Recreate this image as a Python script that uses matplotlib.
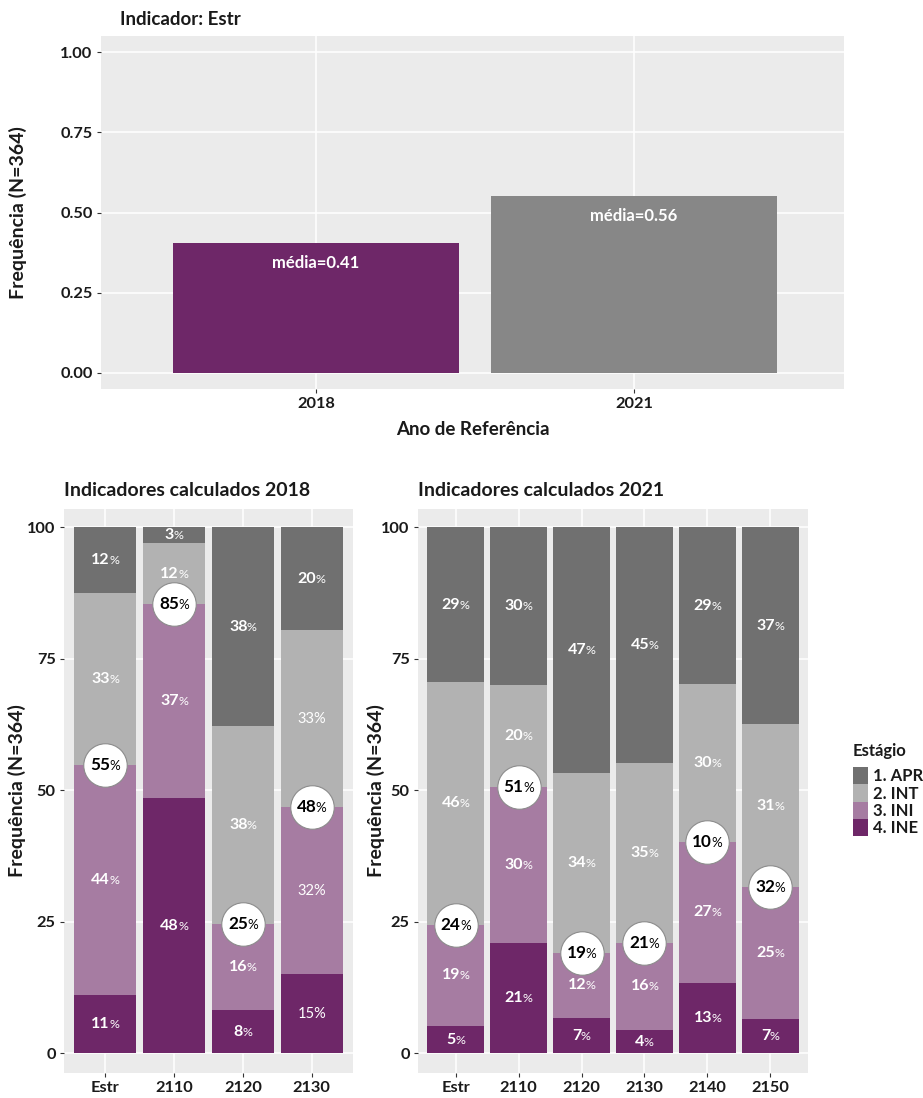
import matplotlib
matplotlib.use("Agg")
import matplotlib.pyplot as plt
from matplotlib.patches import Patch
from matplotlib.offsetbox import TextArea, HPacker, AnnotationBbox

FONT = ["Lato", "DejaVu Sans"]
plt.rcParams["font.family"] = FONT

# ---------------- data ----------------
years = ["2018", "2021"]
mean_values = [0.405, 0.552]
mean_labels = ["média=0.41", "média=0.56"]

legend_title = "Estágio"
stages = ["1. APR", "2. INT", "3. INI", "4. INE"]

cats_2018 = ["Estr", "2110", "2120", "2130"]
ine_2018 = [11.0, 48.5, 8.2, 15.0]
ini_2018 = [43.9, 36.9, 16.4, 31.8]
int_2018 = [32.7, 11.6, 37.6, 33.6]
apr_2018 = [12.4, 3.0, 37.8, 19.6]
lab_ine_2018 = [11, 48, 8, 15]
lab_ini_2018 = [44, 37, 16, 32]
lab_int_2018 = [33, 12, 38, 33]
lab_apr_2018 = [12, 3, 38, 20]
circle_2018 = [55, 85, 25, 48]

cats_2021 = ["Estr", "2110", "2120", "2130", "2140", "2150"]
ine_2021 = [5.2, 21.0, 6.7, 4.4, 13.4, 6.6]
ini_2021 = [19.2, 29.7, 12.4, 16.6, 26.8, 25.0]
int_2021 = [46.2, 19.3, 34.2, 34.2, 30.0, 31.0]
apr_2021 = [29.4, 30.0, 46.7, 44.8, 29.8, 37.4]
lab_ine_2021 = [5, 21, 7, 4, 13, 7]
lab_ini_2021 = [19, 30, 12, 16, 27, 25]
lab_int_2021 = [46, 20, 34, 35, 30, 31]
lab_apr_2021 = [29, 30, 47, 45, 29, 37]
circle_2021 = [24, 51, 19, 21, 10, 32]

# ---------------- style ----------------
C_APR = "#707070"
C_INT = "#B2B2B2"
C_INI = "#A67CA2"
C_INE = "#6E2768"
C_2021 = "#878787"
PANEL = "#EBEBEB"
TXT = "#1A1A1A"

W, H = 923, 1098
fig = plt.figure(figsize=(W / 100, H / 100), dpi=100)


def px_axes(left, top, right, bottom):
    return fig.add_axes([left / W, 1 - bottom / H, (right - left) / W, (bottom - top) / H])


def style_axes(ax):
    ax.set_facecolor(PANEL)
    for s in ax.spines.values():
        s.set_visible(False)
    ax.grid(True, color="white", linewidth=1.1)
    ax.set_axisbelow(True)
    ax.tick_params(axis="both", length=3, width=0.8, color="#333333",
                   labelsize=11.8, labelcolor=TXT, pad=3)
    for lab in ax.get_xticklabels() + ax.get_yticklabels():
        lab.set_fontweight("bold")


# ---------------- top chart ----------------
ax0 = px_axes(101, 36, 844, 389)
xpos = [1, 2]
ax0.bar(xpos, mean_values, width=0.9, color=[C_INE, C_2021], zorder=2)
for x, v, lab in zip(xpos, mean_values, mean_labels):
    ax0.text(x, v - 0.062, lab, ha="center", va="center", color="white",
             fontsize=12, fontweight="bold", zorder=3)
ax0.set_xlim(0.324, 2.66)
ax0.set_ylim(-0.05, 1.05)
ax0.set_xticks(xpos)
ax0.set_xticklabels(years)
ax0.set_yticks([0, 0.25, 0.5, 0.75, 1.0])
ax0.set_yticklabels(["0.00", "0.25", "0.50", "0.75", "1.00"])
style_axes(ax0)
ax0.set_xlabel("Ano de Referência", fontsize=13.5, fontweight="bold", color=TXT, labelpad=7)
ax0.set_ylabel("Frequência (N=364)", fontsize=14, fontweight="bold", color=TXT, labelpad=24)
ax0.set_title("Indicador: Estr", loc="left", fontsize=13.5, fontweight="bold", color=TXT,
              x=0.026, pad=8)


def pct_label(ax, x, y, num, color, plain=False, big=False):
    if plain:
        box = TextArea(f"{num}%", textprops=dict(color=color, fontsize=10.5, family=FONT))
    else:
        fs = 12.3 if big else 11.5
        t1 = TextArea(str(num), textprops=dict(color=color, fontsize=fs, fontweight="bold", family=FONT))
        t2 = TextArea("%", textprops=dict(color=color, fontsize=fs * 0.78, family=FONT))
        box = HPacker(children=[t1, t2], align="baseline", pad=0, sep=-0.5)
    ab = AnnotationBbox(box, (x, y), xycoords="data", frameon=False,
                        box_alignment=(0.5, 0.5), pad=0)
    ab.set_zorder(6)
    ax.add_artist(ab)


def stacked_panel(ax, cats, ine, ini, itn, apr, l_ine, l_ini, l_int, l_apr, circ, title,
                  ylabelpad, plain_cols=()):
    x = list(range(1, len(cats) + 1))
    b1 = [0] * len(x)
    b2 = [a + b for a, b in zip(ine, ini)]
    b3 = [a + b for a, b in zip(b2, itn)]
    ax.bar(x, ine, width=0.9, bottom=b1, color=C_INE, zorder=2)
    ax.bar(x, ini, width=0.9, bottom=ine, color=C_INI, zorder=2)
    ax.bar(x, itn, width=0.9, bottom=b2, color=C_INT, zorder=2)
    ax.bar(x, apr, width=0.9, bottom=b3, color=C_APR, zorder=2)
    for i, xi in enumerate(x):
        plain = i in plain_cols
        pct_label(ax, xi, ine[i] / 2, l_ine[i], "white", plain=plain)
        pct_label(ax, xi, ine[i] + ini[i] / 2, l_ini[i], "white", plain=plain)
        pct_label(ax, xi, b2[i] + itn[i] / 2, l_int[i], "white", plain=plain)
        pct_label(ax, xi, b3[i] + apr[i] / 2, l_apr[i], "white")
    ax.scatter(x, b2, s=980, c="white", edgecolors="#8C8C8C", linewidths=0.8, zorder=5)
    for xi, yi, c in zip(x, b2, circ):
        pct_label(ax, xi, yi, c, "black", big=True)
    ax.set_xlim(0.4, len(x) + 0.6)
    ax.set_ylim(-3.75, 103.5)
    ax.set_xticks(x)
    ax.set_xticklabels(cats)
    ax.set_yticks([0, 25, 50, 75, 100])
    style_axes(ax)
    ax.set_ylabel("Frequência (N=364)", fontsize=14, fontweight="bold", color=TXT,
                  labelpad=ylabelpad)
    ax.set_title(title, loc="left", fontsize=14, fontweight="bold", color=TXT, pad=9)


ax1 = px_axes(64, 509, 353, 1073)
stacked_panel(ax1, cats_2018, ine_2018, ini_2018, int_2018, apr_2018,
              lab_ine_2018, lab_ini_2018, lab_int_2018, lab_apr_2018, circle_2018,
              "Indicadores calculados 2018", ylabelpad=1, plain_cols=(3,))

ax2 = px_axes(418, 509, 808, 1073)
stacked_panel(ax2, cats_2021, ine_2021, ini_2021, int_2021, apr_2021,
              lab_ine_2021, lab_ini_2021, lab_int_2021, lab_apr_2021, circle_2021,
              "Indicadores calculados 2021", ylabelpad=-3)

# ---------------- legend ----------------
fig.text(853 / W, 1 - 751 / H, legend_title, ha="left", va="center",
         fontsize=12, fontweight="bold", color=TXT)
handles = [Patch(facecolor=c, edgecolor="none") for c in [C_APR, C_INT, C_INI, C_INE]]
leg = fig.legend(handles, stages, loc="upper left", bbox_to_anchor=(853 / W, 1 - 767 / H),
                 frameon=False, prop=dict(weight="bold", size=12),
                 handlelength=0.92, handleheight=1.22, labelspacing=0.0,
                 handletextpad=0.3, borderpad=0, borderaxespad=0)
for t in leg.get_texts():
    t.set_color(TXT)

fig.savefig("out.png", dpi=100)
